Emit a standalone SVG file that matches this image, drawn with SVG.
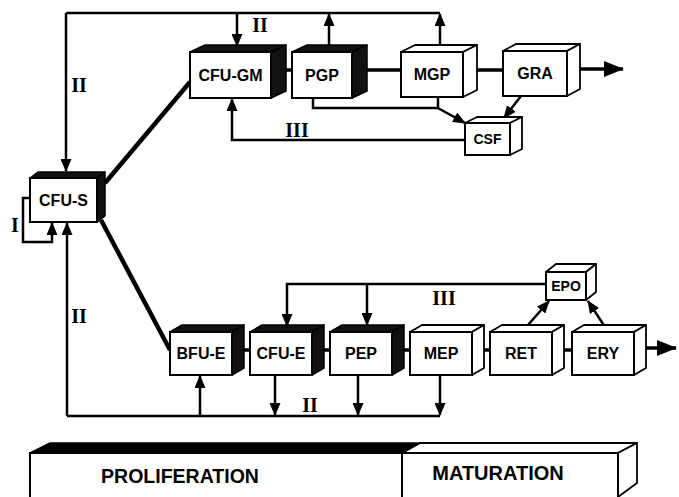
<svg xmlns="http://www.w3.org/2000/svg" width="679" height="497" viewBox="0 0 679 497">
<style>
.front{fill:#fff;stroke:#000;stroke-width:2}
.dk{fill:#111;stroke:#000;stroke-width:1.5;stroke-linejoin:round}
.lt{fill:#fff;stroke:#000;stroke-width:1.8;stroke-linejoin:round}
.lbl{font-family:"Liberation Sans",Arial,sans-serif;font-weight:bold;font-size:16px;text-anchor:middle;fill:#000}
.sm{font-size:14px}
.rn{font-family:"Liberation Serif","Times New Roman",serif;font-weight:bold;font-size:20px;text-anchor:middle;fill:#000}
.fb{fill:none;stroke:#000;stroke-width:2.5}
.cn{fill:none;stroke:#000;stroke-width:3.5}
.br{fill:none;stroke:#000;stroke-width:4.5}
.big{font-size:19.5px}
</style>
<defs>
<marker id="ah" markerUnits="userSpaceOnUse" markerWidth="13" markerHeight="11" refX="12" refY="5.5" orient="auto">
<path d="M0,0 L13,5.5 L0,11 z" fill="#000"/>
</marker>
<marker id="out" markerUnits="userSpaceOnUse" markerWidth="20" markerHeight="16" refX="19" refY="8" orient="auto">
<path d="M0,0 L20,8 L0,16 z" fill="#000"/>
</marker>
</defs>
<rect width="679" height="497" fill="#fff"/>

<g id="connectors">
<path class="fb" d="M66,13 H440"/>
<path class="fb" d="M440,45 V14" marker-end="url(#ah)"/>
<path class="fb" d="M329,45 V14" marker-end="url(#ah)"/>
<path class="fb" d="M237,13 V46" marker-end="url(#ah)"/>
<path class="fb" d="M66,13 V171" marker-end="url(#ah)"/>
<path class="fb" d="M313,98 V108 H438"/>
<path class="fb" d="M438,97 V108 L465,123" marker-end="url(#ah)"/>
<path class="fb" d="M521,96 L504,118" marker-end="url(#ah)"/>
<path class="fb" d="M465,140 H232 V99" marker-end="url(#ah)"/>
<path class="fb" d="M30,198 H23 V242 H52 V223" marker-end="url(#ah)"/>
<path class="fb" d="M67,416 V223" marker-end="url(#ah)"/>
<path class="fb" d="M67,416 H440"/>
<path class="fb" d="M200,416 V376" marker-end="url(#ah)"/>
<path class="fb" d="M275,375 V415" marker-end="url(#ah)"/>
<path class="fb" d="M358,375 V415" marker-end="url(#ah)"/>
<path class="fb" d="M440,375 V415" marker-end="url(#ah)"/>
<path class="fb" d="M546,284 H287 V326" marker-end="url(#ah)"/>
<path class="fb" d="M367,284 V325" marker-end="url(#ah)"/>
<path class="fb" d="M528,325 L549,301" marker-end="url(#ah)"/>
<path class="fb" d="M605,327 L588,301" marker-end="url(#ah)"/>
<path class="br" d="M105,183 L190,82"/>
<path class="br" d="M101,220 L170,350"/>
<path class="cn" d="M286,70 H292"/>
<path class="cn" d="M367,70 H401"/>
<path class="cn" d="M477,70 H503"/>
<path class="cn" d="M580,69 H623" marker-end="url(#out)"/>
<path class="cn" d="M244,350 H250"/>
<path class="cn" d="M324,350 H330"/>
<path class="cn" d="M404,350 H410"/>
<path class="cn" d="M484,350 H490"/>
<path class="cn" d="M564,350 H572"/>
<path class="cn" d="M646,348 H676" marker-end="url(#out)"/>
</g>

<g id="cfu-s">
<polygon class="dk" points="30,178 38,172 105,172 97,178"/>
<polygon class="dk" points="97,178 105,172 105,216 97,222"/>
<rect class="front" x="30" y="178" width="67" height="44"/>
<text class="lbl" x="63.5" y="206">CFU-S</text>
</g>
<g id="cfu-gm">
<polygon class="dk" points="190,52 205,45 286,45 271,52"/>
<polygon class="dk" points="271,52 286,45 286,91 271,98"/>
<rect class="front" x="190" y="52" width="81" height="46"/>
<text class="lbl" x="230.5" y="81">CFU-GM</text>
</g>
<g id="pgp">
<polygon class="dk" points="292,52 307,45 367,45 352,52"/>
<polygon class="dk" points="352,52 367,45 367,91 352,98"/>
<rect class="front" x="292" y="52" width="60" height="46"/>
<text class="lbl" x="322" y="81">PGP</text>
</g>
<g id="mgp">
<polygon class="lt" points="401,52 415,45 477,45 463,52"/>
<polygon class="lt" points="463,52 477,45 477,90 463,97"/>
<rect class="front" x="401" y="52" width="62" height="45"/>
<text class="lbl" x="432" y="80">MGP</text>
</g>
<g id="gra">
<polygon class="lt" points="503,51 516,44 580,44 567,51"/>
<polygon class="lt" points="567,51 580,44 580,89 567,96"/>
<rect class="front" x="503" y="51" width="64" height="45"/>
<text class="lbl" x="535" y="79">GRA</text>
</g>
<g id="csf">
<polygon class="lt" points="465,123 477,117 522,117 510,123"/>
<polygon class="lt" points="510,123 522,117 522,149 510,155"/>
<rect class="front" x="465" y="123" width="45" height="32"/>
<text class="lbl sm" x="487.5" y="144">CSF</text>
</g>
<g id="epo">
<polygon class="lt" points="546,272 556,264 596,264 586,272"/>
<polygon class="lt" points="586,272 596,264 596,292 586,300"/>
<rect class="front" x="546" y="272" width="40" height="28"/>
<text class="lbl sm" x="566" y="291">EPO</text>
</g>
<g id="bfu-e">
<polygon class="dk" points="170,332 182,325 244,325 232,332"/>
<polygon class="dk" points="232,332 244,325 244,368 232,375"/>
<rect class="front" x="170" y="332" width="62" height="43"/>
<text class="lbl" x="201" y="359">BFU-E</text>
</g>
<g id="cfu-e">
<polygon class="dk" points="250,332 262,325 324,325 312,332"/>
<polygon class="dk" points="312,332 324,325 324,368 312,375"/>
<rect class="front" x="250" y="332" width="62" height="43"/>
<text class="lbl" x="281" y="359">CFU-E</text>
</g>
<g id="pep">
<polygon class="dk" points="330,332 342,325 404,325 392,332"/>
<polygon class="dk" points="392,332 404,325 404,368 392,375"/>
<rect class="front" x="330" y="332" width="62" height="43"/>
<text class="lbl" x="361" y="359">PEP</text>
</g>
<g id="mep">
<polygon class="lt" points="410,332 422,325 484,325 472,332"/>
<polygon class="lt" points="472,332 484,325 484,368 472,375"/>
<rect class="front" x="410" y="332" width="62" height="43"/>
<text class="lbl" x="441" y="359">MEP</text>
</g>
<g id="ret">
<polygon class="lt" points="490,332 502,325 564,325 552,332"/>
<polygon class="lt" points="552,332 564,325 564,368 552,375"/>
<rect class="front" x="490" y="332" width="62" height="43"/>
<text class="lbl" x="521" y="359">RET</text>
</g>
<g id="ery">
<polygon class="lt" points="572,332 584,325 646,325 634,332"/>
<polygon class="lt" points="634,332 646,325 646,368 634,375"/>
<rect class="front" x="572" y="332" width="62" height="43"/>
<text class="lbl" x="603" y="359">ERY</text>
</g>

<g id="labels">
<text class="rn" x="260" y="32">II</text>
<text class="rn" x="79" y="92">II</text>
<text class="rn" x="297" y="137">III</text>
<text class="rn" x="15" y="232">I</text>
<text class="rn" x="79" y="323">II</text>
<text class="rn" x="310" y="412">II</text>
<text class="rn" x="444" y="305">III</text>
</g>

<g id="phase-bar">
<polygon class="lt" points="402,453 420,443 637,443 618,453"/>
<polygon fill="#000" stroke="#000" stroke-width="1.5" points="30,453 50,443 420,443 402,453"/>
<polygon class="lt" points="618,453 637,443 637,483 618,497"/>
<path d="M30,500 V453 H618 V500 M402,453 V500" fill="#fff" stroke="#000" stroke-width="2"/>
<text class="lbl big" x="180" y="483">PROLIFERATION</text>
<text class="lbl big" x="498" y="480" style="font-size:20px">MATURATION</text>
</g>
</svg>
